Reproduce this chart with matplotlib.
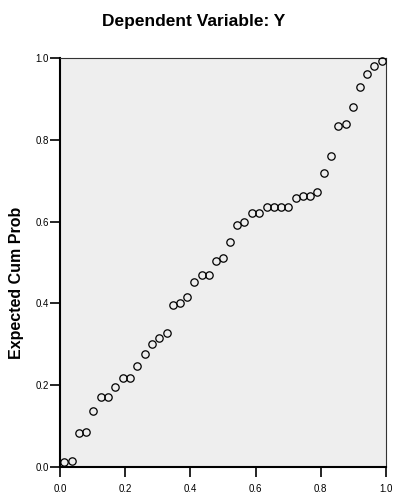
import matplotlib
matplotlib.use("Agg")
import matplotlib.pyplot as plt

observed = [0.012, 0.036, 0.058, 0.081, 0.102, 0.125, 0.147, 0.170, 0.192, 0.215,
            0.237, 0.260, 0.282, 0.305, 0.327, 0.346, 0.368, 0.390, 0.412, 0.436,
            0.458, 0.478, 0.501, 0.521, 0.544, 0.565, 0.588, 0.610, 0.634, 0.656,
            0.678, 0.700, 0.723, 0.744, 0.767, 0.789, 0.809, 0.831, 0.853, 0.876,
            0.898, 0.919, 0.943, 0.964, 0.989]
expected = [0.011, 0.015, 0.082, 0.086, 0.138, 0.171, 0.171, 0.196, 0.217, 0.217,
            0.246, 0.276, 0.300, 0.315, 0.327, 0.395, 0.402, 0.416, 0.452, 0.469,
            0.469, 0.504, 0.510, 0.549, 0.592, 0.598, 0.622, 0.622, 0.635, 0.635,
            0.635, 0.635, 0.658, 0.663, 0.663, 0.672, 0.719, 0.760, 0.833, 0.839,
            0.880, 0.930, 0.960, 0.980, 0.992]
ticks = [0.0, 0.2, 0.4, 0.6, 0.8, 1.0]
tick_labels = ["0.0", "0.2", "0.4", "0.6", "0.8", "1.0"]

plt.rcParams['font.family'] = ['Liberation Sans', 'DejaVu Sans']

fig = plt.figure(figsize=(4.0, 4.97), dpi=100)
ax = fig.add_axes([0.15, 0.0604, 0.815, 0.8229])
ax.set_facecolor('#eeeeee')
ax.plot(observed, expected, linestyle='none', marker='o', markersize=5.3,
        markerfacecolor='none', markeredgecolor='black', markeredgewidth=0.9,
        clip_on=False, zorder=3)
ax.set_xlim(0, 1)
ax.set_ylim(0, 1)
ax.set_xticks(ticks)
ax.set_xticklabels(tick_labels)
ax.set_yticks(ticks)
ax.set_yticklabels(tick_labels)
ax.tick_params(axis='both', labelsize=7, length=7, width=1.2, direction='out')
ax.tick_params(axis='x', pad=5)
ax.tick_params(axis='y', pad=1)
for s in ['left', 'bottom']:
    ax.spines[s].set_linewidth(1.5)
    ax.spines[s].set_color('black')
for s in ['top', 'right']:
    ax.spines[s].set_linewidth(0.8)
    ax.spines[s].set_color('#333333')
ax.set_ylabel('Expected Cum Prob', fontsize=11.5, fontweight='bold')
ax.yaxis.set_label_coords(-0.133, 0.45)
ax.yaxis.label.set_va('center')
fig.text(0.485, 0.9567, 'Dependent Variable: Y', ha='center', va='center',
         fontsize=12.5, fontweight='bold')
fig.savefig('out.png', dpi=100)
